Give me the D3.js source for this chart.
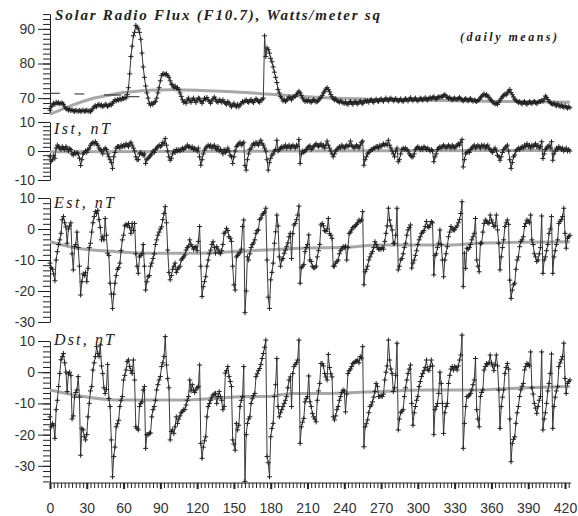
<!DOCTYPE html>
<html>
<head>
<meta charset="utf-8">
<script src="https://cdn.jsdelivr.net/npm/d3@7"></script>
<style>
  body { margin: 0; background: #fff; }
  svg { display: block; }
</style>
</head>
<body>
<svg id="chart"></svg>
<script>
// ---------- data: daily means, one value per day (day 0 .. 424) ----------

// Solar radio flux F10.7, Watts/meter sq
const f107 = [
66.5,67.5,68,68.5,68.2,68.8,68.5,68.7,68.3,68.5,
68.6,68.2,67.5,67,66.8,66.5,66.8,66.4,66.6,66.3,
66.2,66.5,66.3,66.2,66.4,66.2,66.3,66.5,66.2,66.3,
66.5,66.2,66.3,66.1,66.5,67,67.5,67.8,67.5,68,
68.2,67.8,68,67.5,67.8,68.2,68,67.6,67.9,68.3,
68,68.5,69,69.5,69.2,69.6,69.4,69.8,69.5,70,
69.8,70.2,70,71,73,77,82,85,88,89,
91,90.5,90,89,87,83,79,76,73.5,71.5,
70,68.5,68,68.5,68.2,68.8,69,70,71.5,73,
75,76.5,77,77,76.8,77,76.5,76,75,74,
73.8,73,73.5,72.8,73,72.5,71.5,70.5,69.5,68.8,
69,68.5,69.5,70,69.2,68.8,69.5,70,69.3,68.7,
69.5,70,69.8,69,68.5,69.3,70,69.6,70.2,69.5,
69,68.5,69.2,69.8,70.3,69.7,69,68.8,69.5,69.2,
68.8,69.5,69,68.5,68.2,69,68.6,68,67.5,68,
68.5,67.8,67.5,68.2,67.5,68,68.5,69,68.7,69.2,
69.5,69,68.8,69.2,69.6,69,68.7,69.3,69.8,69.5,
69,68.8,69.5,69.5,70,88,82,84.5,84,83,
81.5,80.5,79,77.5,76,74.5,72.5,71.5,70.5,70,
69.2,69.5,69,69.4,69.8,70.3,70,69.5,70.2,70.5,
70.5,71,71.5,72,71.5,70.8,70,69.5,69,69.3,
69.1,69.5,69,68.8,69.2,69.6,69.2,68.9,69,69.4,
69.8,70.2,70.8,71.5,72,72.6,73,72.5,71.8,71,
70.4,69.8,69.5,69.8,69.3,69,68.8,69.2,68.9,68.6,
68.5,68.9,68.4,68.2,68.7,69,68.6,68.2,68.7,69,
68.6,68.3,68.8,69.2,68.7,68.4,68.9,69.3,69,69.2,
68.8,69.3,69.6,69.1,68.8,69.3,69.7,69.2,69,69.5,
69.8,69.4,69.1,69.6,70,69.5,69.2,69.7,70,69.6,
69.2,69.5,69.9,69.4,69.1,69.4,69.8,69.3,69,69.5,
69.9,69.5,69.2,69.7,70.1,69.6,69.3,69.7,70,69.5,
69.2,69.6,70,69.7,69.4,69.8,70.1,69.7,69.4,69.9,
70.2,69.8,70.1,70.4,70,69.7,70.1,70.4,70.2,70.5,
70.3,70.8,71,70.6,70.2,69.9,70.2,69.8,69.5,69.8,
70,69.7,69.6,69.9,70.2,69.8,69.5,69.2,69.6,69.9,
69.5,69.2,69.6,69.9,69.4,69.1,69.5,69.2,69,69.3,
69.6,70.1,70.5,70.9,71.2,70.7,71,70.6,70.2,69.7,
69.3,68.9,68.6,68.3,68.5,68.2,68.8,69.4,69.9,70.4,
70.8,71.2,70.9,71.5,72,72.5,71.6,71,70.3,69.7,
69.3,69,68.7,69,68.6,68.3,68.7,69,68.5,68.2,
68.6,69,68.7,68.4,68.8,69.1,68.7,68.4,68.8,69.1,
69,69.3,69.1,69.8,70.6,70.2,69.6,69,68.7,68.4,
68.2,68.6,68,67.8,68.3,67.9,67.5,68,67.6,67.3,
67.8,67.4,67.1,67.5,67.2
];

// Ist, nT
const ist = [
-2,-3.5,-3,-1.5,-2.5,1,2,1.5,1,0.5,
1.5,1,0.5,1.5,1,0,0.8,0.5,-1,-1.4,
-0.5,-1,-0.5,-1,-2.5,-5,-3,-1,-0.5,0,
-0.5,0.5,1,2,2.5,3,2.5,3.2,2.5,2,
1,0.5,0,-1,0.5,1,0.5,-1,-2,-3,
-4,-6,-2,-0.5,1,1.5,1.5,1,2,1.5,
2,1.5,2.5,2,1.5,2.5,3,2,1,0,
-2,-3,-3,-1,-0.5,-1,-1.5,-1,-4.3,-3,
-2.5,-2,-1.5,-1,0,-0.5,0.5,1,1.5,2,
1.5,2,3,2.5,4.3,2,0,-2,-3.2,-2.5,
-1,0,-0.5,0.5,0,0.5,0,0.5,1,0.5,
1,1.4,2,1.4,1.5,1,1.4,0.5,1,0.5,
0,1,-2,-4.9,-3,-1,0.3,1,1.5,2,
1.5,2,1,1.5,2,1,0.5,1.5,0,0.5,
0,-1,0.5,-0.5,0,1,0,-1.5,-2,-4.3,
-2,0,1.5,2,2.5,3,2,2.5,3,-5,
-6.6,-3,-1,0.5,1,2,2.5,2,3,2.5,
2,3,3.7,2.5,2,1,0,-3,-6.6,-4,
-2.5,-1.4,-1,0,0.5,3.7,0,0.5,1,1.5,
1,1.5,2,1,1.5,2,1,1.5,2,1.5,
1,2,1.5,4,-4.3,-1,0,-0.5,0,0.5,
1,1.5,1.8,0.5,1,1.5,2,2.5,2,1.5,
2,2.5,1.5,2,1,2,3.4,2,1,0,
-1,-2,-1,0,0.5,1,1.5,1,2,1.5,
1,1.5,2,1.5,2,3.4,2,1.5,1,1.5,
2,1.5,1,2,3,3.4,-4.9,-3,-2,-1,
-0.5,0,0.5,0.5,1,1,1.5,1.5,1,2,
1.5,2,2.5,2,2.5,2,3.7,2,1,0,
-1,-2,0,1,-3.7,-3,-1,0.5,1,0.5,
1,0.5,0,-1,-1.5,-2,-2,-1,0.5,1,
1.5,1,0.5,1,0.5,1.5,1,0.5,1,0.5,
0,0.5,0,-3.7,-2,-1,0.5,1,1.5,1,
1.5,2,1.5,1,1.5,2,1.5,1,2,1.5,
1,1.5,2,2.5,2,3,4,-5.5,-3,-1,
-0.5,0,-0.5,0.5,1,1.5,2,1,1.5,2,
1.5,1,2,1.5,2,1,1.5,2,1,0.5,
0,-0.5,0.5,1,0,-1.5,-2,-3.2,-2,-0.5,
0.5,1,1.5,2,0,-3,-6,-4,-2,-1.4,
0,0.5,1,0.5,1,1.5,1,2,1.5,2.5,
1.5,2,1,2,1.5,2,2.5,1.5,2,1,
1.5,3.2,-2.6,-1,0.5,1,1.5,2,1,3.2,
-3.2,-1,0,1,0.5,1.5,1,0.5,1,0,
0.5,1,0,0.5,0
];

// Est, nT
const est = [
-11,-12.5,-13,-14.5,-16.7,-10,-7.3,-5,-3.5,-1.4,
3,4,2,0.7,-4.6,0,1,2,-8,-13.2,
-5.7,-5,-1,-6,-12,-21.3,-17,-14.5,-15,-14,
-17,-12.7,-6,-4.6,-1,2,4,5.6,5,6,
3,0.5,-3.5,-2.5,-3.5,3.4,-2,-7.8,-8.5,-17.5,
-21,-25.6,-21,-17.5,-15,-13,-12.5,-11,-7,-3.5,
-2,1,1.5,1,1.8,0.5,-1.4,1.8,-0.5,1.8,
-8,-12,-14.3,-9,-8.5,-8,-5,-12,-19.7,-17,
-15.4,-15,-12,-11,-9.5,-8,-5,-3.5,-2,-1,
0,0.7,3,5,7.2,2,-6.8,-14,-16.4,-15,
-13,-12,-11,-14,-13,-12.5,-12,-10,-9.5,-9,
-8.4,-6.8,-6,-5.5,-3.5,-5,-5.7,-6.5,-6,-5.7,
-7,-4,0.8,-12,-21.8,-18.6,-17,-15.4,-12,-10,
-8,-6.8,-5,-4.1,-6,-7.8,-5.7,-6.5,-7.5,-8,
-7,-5,-1.4,-1,0.2,-0.5,-2.5,-3,-4,-12,
-18,-19.7,-9,-8.5,-8,-7.5,-6.5,0.8,2.9,-27,
-20,-9,-10,-8,-6,-5,-4.5,-3.5,-1.4,-0.5,
-0.3,3,3.5,4.5,5,5.5,6.7,-10,-22,-25.6,
-16.4,-14,-11,-4.6,-0.9,4.5,1,-9,-12,-10,
-9.5,-7.8,-6.8,-5.7,-4.5,-2.5,-1.4,-9.5,-1.5,1.3,
1.8,3,4.5,7.4,-17.5,-12.5,-12,-11.5,-7.3,-6,
-5,-1.9,-10,-10.5,-12,-12.5,-12.5,-12,-9,-7,
-5,1.3,1.8,1,-0.5,-0.8,0,3.4,-1.5,-2,
-3,-12,-12,-11,-10.5,-10,-8,-7,-6.5,-5.7,
-6,-5.5,-10,-6,-1.4,-1,-0.3,0.5,0.7,1,
1.5,2,2.9,2.5,2.9,5.6,-18,-13.8,-13,-12,
-10,-9,-8,-7.3,-6,-4.1,-5,-6,-6.5,-6.5,
-6.5,-6,-6.5,-4,-1.4,1,6.7,2.9,1,-0.3,
-4.6,-4.6,-2,6.7,-13.2,-12,-10,-9.5,-8,-6,
-4.6,-2,-0.3,0.5,1.3,-12.6,-11,-10,-8.5,-7,
-5,-3.5,-2.5,-1.4,-1,-0.5,0.8,2.4,0.8,0.5,
1.3,2.4,2,-14.8,-8.5,-8,-6,-4.6,-0.3,-5,
-10,-15.4,-10,-8,-5.7,-2.5,-1,0.8,0,-0.3,
-0.3,0.5,1,2,3,5,8.8,-18.6,-7.8,-12.7,
-6.2,-6.5,-6,-5,-3.5,-2.5,-1.4,3.4,-10,-12,
-13.8,-4.6,-4.6,-1,1.8,2.9,2.5,2,1.8,4.5,
2.9,2,0.8,1,4.5,-0.3,-4.6,-13.2,-9,-6,
-3.5,0.8,2,2.9,1.5,-16.5,-22.4,-19.7,-18,-17.5,
-13,-10,-9,-5.7,-4,-3.5,-2.5,0.8,1.8,2.9,
2.5,2,4.5,-3.5,-5,-8,-9,-10.5,-10,-8,
-6,4.2,-14.3,-10,-9,-7,-5,-1.4,0,4,
-14.3,-9,-7,-5,-3.5,1.8,2.5,3,4,6.7,
-1.4,-6.2,-3,-2.5,-2
];

// Dst, nT
const dst = [
-14.3,-17.5,-16.5,-17,-21.2,-12,-9,-4.6,-0.4,4,
5,6,3,0,-6.2,-0.5,0,-1,-15,-14,
-8,-6.5,-5.7,-1.4,-8,-26.6,-18,-18.5,-20.7,-21.7,
-20,-14.3,-10,-6,-4.6,0.7,3,5,8.2,6,
5,8.7,2,-0.4,-5,-6.8,-5.5,2.5,-8.4,-11,
-21.7,-33.5,-27,-24,-17.5,-16.5,-15.4,-11,-9,-7.8,
-2.5,-1,0.7,3.4,3.9,1.8,0.5,-0.4,3.9,-2.5,
-17.5,-18,-18.5,-11,-10,-9.5,-5.7,-4.6,-24.4,-20,
-20,-19.5,-19.5,-14.3,-12,-11,-9,-5.7,-4,-2.5,
-1.4,1.8,3,5,11.4,2.3,-2,-5,-21.7,-19,
-18.5,-19.6,-17.5,-14.3,-16.4,-15,-14,-13,-12.5,-12,
-12,-10.5,-9,-7.8,-2.5,-6,-4,-5.7,-6.5,-5.7,
-5,-4.6,2.3,-22.8,-27.6,-24,-22,-20.7,-14.3,-11,
-10,-9,-8,-7.3,-7,-6.8,-10,-7.8,-6.2,-7.8,
-9,-12,-11,-0.3,0.5,1.8,-1.4,-3,-4.6,-21.7,
-23,-25,-16.4,-18.5,-17,-11,-9,-7.8,1.8,-35,
-20,-16.4,-15,-14.3,-10,-8.5,-7.5,-6.8,-1.4,-0.5,
0.5,1.2,2.5,4.4,6,8,10.3,-27,-29,-33.5,
-20.7,-18,-16.4,-7.8,-4,4.4,-11,-14.3,-13,-12,
-11,-10,-9,-7.8,-5,-2.5,-1.5,-11,-0.4,1.8,
2.5,3,3.9,10.3,-22.8,-17.5,-16,-14.8,-9.5,-8.5,
-7.8,-1.2,-9.5,-11,-13.2,-14.3,-15,-15.9,-9,-6,
-3.6,2.8,2.8,2,-0.4,-1.5,-2.5,5.7,1.5,-0.5,
-1.5,-14.3,-15.3,-14,-12,-11,-9,-7.8,-6.5,-5.7,
-6,-12.7,-7,-0.4,0.5,1,1.8,2.8,3,3.5,
3.5,3.9,3,5,4.5,8.2,-23.9,-17.5,-16.5,-15.3,
-13,-11,-10.5,-9.5,-8,-6.2,-3.6,-4.6,-7.8,-7.8,
-7.5,-7.8,-7,-2.5,0,2,10.3,3.9,1,-0.4,
-6.2,-5,-1,9.3,-18.5,-15,-13,-12.5,-12,-7.8,
-5,-2.5,-0.4,1,2.3,-10,-17,-13,-11,-9,
-7.8,-4.6,-3,-1.4,-0.4,0.5,1.5,3.9,1,0.5,
1.8,3.9,2,-20,-12,-11,-10,-6.8,0,-3.6,
-10,-19.6,-13,-11,-10,-3.6,-1,1,1.8,0.7,
1.8,1.5,0.7,2,3.9,5.5,11.9,-24.4,-16.4,-11,
-7.8,-7.8,-7.3,-6.8,-5.7,-4,-2.5,4.4,-12,-15,
-17.5,-7.8,-6.5,-5.7,0.7,1.8,2.8,2.5,3,5.5,
3,2,0.5,2.5,5.5,2,-5.7,-18,-11,-8,
-5.7,-0.4,1.5,2.8,1,-15,-28.7,-22.8,-21.5,-20.7,
-16.4,-13,-11,-7.8,-5.7,-4.5,-3.6,0.7,1.8,2.8,
2.5,2,6.5,-5,-7,-10,-11.5,-13.2,-11,-9,
-7.8,6.5,-18.5,-15,-13,-10,-6,-3.6,-0.4,5.8,
-18,-11,-8,-6,-4.6,1.8,3,4,5,9.3,
-2,-6.8,-3.6,-3,-2.5
];

// smoothed trends, [day, value]
const f107Trend = [[0,65.3],[10,66.8],[20,68.2],[30,69.4],[40,70.3],[50,71],[60,71.6],[70,72],[80,72.3],
  [100,72.4],[120,72.3],[140,72],[160,71.6],[180,71.1],[200,70.6],[220,70.2],[240,69.9],[260,69.7],
  [280,69.5],[300,69.4],[340,69.2],[380,69],[424,68.8]];
const istTrend = [[0,-0.3],[100,-0.2],[200,0],[300,0.1],[424,0.2]];
const estTrend = [[0,-4.1],[22,-6.2],[54,-7.3],[81,-7.8],[121,-7.8],[148,-7.3],[175,-6.8],[203,-6.2],
  [241,-5.9],[268,-5.2],[322,-5.2],[349,-4.6],[424,-4.1]];
const dstTrend = [[0,-5.7],[27,-7.8],[54,-8.9],[108,-8.9],[135,-8.4],[162,-7.8],[176,-7.8],[197,-6.8],
  [227,-6.8],[268,-6.2],[308,-5.7],[349,-5.7],[376,-5.2],[424,-4.6]];

// short mean segments in the flux panel, [from day, to day, value]
const f107Segments = [[0,8,71.4],[20,28,71.2],[44,58,70.9],[63,73,70.4]];

// tick labels
const xTicks = d3.range(0, 421, 30);
const xMinor = d3.range(0, 426, 3);

// ---------- layout ----------
const W = 578, H = 516;
const svg = d3.select("#chart").attr("width", W).attr("height", H);
const x = d3.scaleLinear().domain([0, 420]).range([50, 565]);

const panels = [
  { values: f107, trend: f107Trend, domain: [65.7, 94.3], range: [113, 14], majors: [70, 80, 90], minorStep: 10 / 7 },
  { values: ist,  trend: istTrend,  domain: [-10, 10],    range: [180, 122], majors: [-10, 0, 10], minorStep: 10 / 7 },
  { values: est,  trend: estTrend,  domain: [-30, 10],    range: [322, 198], majors: [-30, -20, -10, 0, 10], minorStep: 10 / 6 },
  { values: dst,  trend: dstTrend,  domain: [-35.5, 10],  range: [483, 341], majors: [-30, -20, -10, 0, 10], minorStep: 10 / 6 }
];

const ink = "#222";

panels.forEach(p => {
  const y = d3.scaleLinear().domain(p.domain).range(p.range);
  const g = svg.append("g");

  // minor ticks
  const k0 = Math.ceil(p.domain[0] / p.minorStep - 1e-6), k1 = Math.floor(p.domain[1] / p.minorStep + 1e-6);
  const minors = d3.range(k0, k1 + 1).map(k => k * p.minorStep);
  g.append("g")
    .attr("transform", "translate(50,0)")
    .call(d3.axisLeft(y).tickValues(minors).tickSize(7).tickSizeOuter(0).tickFormat(""))
    .call(a => a.select(".domain").remove())
    .call(a => a.selectAll("line").attr("stroke", ink));

  // major ticks + labels
  g.append("g")
    .attr("transform", "translate(50,0)")
    .call(d3.axisLeft(y).tickValues(p.majors).tickSize(12).tickSizeOuter(0).tickPadding(3).tickFormat(d => String(d)))
    .call(a => a.select(".domain").attr("stroke", ink))
    .call(a => a.selectAll("line").attr("stroke", ink))
    .call(a => a.selectAll("text")
      .attr("fill", "#333")
      .attr("font-family", "'Liberation Sans', Arial, sans-serif")
      .attr("font-size", 14));

  // smoothed trend (gray)
  g.append("path")
    .datum(p.trend)
    .attr("fill", "none")
    .attr("stroke", "#a8a8a8")
    .attr("stroke-width", 3)
    .attr("d", d3.line().x(d => x(d[0])).y(d => y(d[1])).curve(d3.curveMonotoneX));

  // daily line
  g.append("path")
    .datum(p.values)
    .attr("fill", "none")
    .attr("stroke", "#3a3a3a")
    .attr("stroke-width", 1)
    .attr("d", d3.line().x((d, i) => x(i)).y(d => y(d)));

  // "+" markers
  g.append("g")
    .selectAll("path")
    .data(p.values)
    .join("path")
    .attr("fill", "none")
    .attr("stroke", ink)
    .attr("stroke-width", 1)
    .attr("d", (d, i) => `M${x(i) - 2.5},${y(d)}h5M${x(i)},${y(d) - 2.5}v5`);

  p.y = y;
});

// dark mean segments in the flux panel
svg.append("g")
  .selectAll("line")
  .data(f107Segments)
  .join("line")
  .attr("x1", d => x(d[0])).attr("x2", d => x(d[1]))
  .attr("y1", d => panels[0].y(d[2])).attr("y2", d => panels[0].y(d[2]))
  .attr("stroke", ink).attr("stroke-width", 1);

// bottom x axis
const xAxisY = 483;
svg.append("line")
  .attr("x1", x(0)).attr("x2", x(425)).attr("y1", xAxisY).attr("y2", xAxisY)
  .attr("stroke", ink);
svg.append("g")
  .attr("transform", `translate(0,${xAxisY})`)
  .call(d3.axisBottom(x).tickValues(xMinor).tickSize(5).tickSizeOuter(0).tickFormat(""))
  .call(a => a.select(".domain").remove())
  .call(a => a.selectAll("line").attr("stroke", ink));
svg.append("g")
  .attr("transform", `translate(0,${xAxisY})`)
  .call(d3.axisBottom(x).tickValues(xTicks).tickSize(6).tickSizeOuter(0).tickPadding(14).tickFormat(d => String(d)))
  .call(a => a.select(".domain").remove())
  .call(a => a.selectAll("line").attr("stroke", ink).attr("stroke-width", 2))
  .call(a => a.selectAll("text")
    .attr("fill", "#333")
    .attr("font-family", "'Liberation Sans', Arial, sans-serif")
    .attr("font-size", 14));

// titles
const serif = "'Liberation Serif', 'DejaVu Serif', serif";
svg.append("text")
  .attr("x", 55).attr("y", 20)
  .attr("font-family", serif).attr("font-size", 15)
  .attr("font-weight", "bold").attr("font-style", "italic")
  .attr("fill", "#222")
  .attr("textLength", 325).attr("lengthAdjust", "spacing")
  .text("Solar Radio Flux (F10.7), Watts/meter sq");

svg.append("text")
  .attr("x", 460).attr("y", 41)
  .attr("font-family", serif).attr("font-size", 12)
  .attr("font-weight", "bold").attr("font-style", "italic")
  .attr("fill", "#222")
  .attr("textLength", 97).attr("lengthAdjust", "spacing")
  .text("(daily means)");

const panelLabels = [
  { text: "Ist, nT", y: 134, len: 56 },
  { text: "Est, nT", y: 208, len: 60 },
  { text: "Dst, nT", y: 345, len: 60 }
];
svg.append("g")
  .selectAll("text")
  .data(panelLabels)
  .join("text")
  .attr("x", 54).attr("y", d => d.y)
  .attr("font-family", serif).attr("font-size", 16)
  .attr("font-style", "italic")
  .attr("fill", "#222")
  .attr("textLength", d => d.len).attr("lengthAdjust", "spacing")
  .text(d => d.text);
</script>
</body>
</html>
